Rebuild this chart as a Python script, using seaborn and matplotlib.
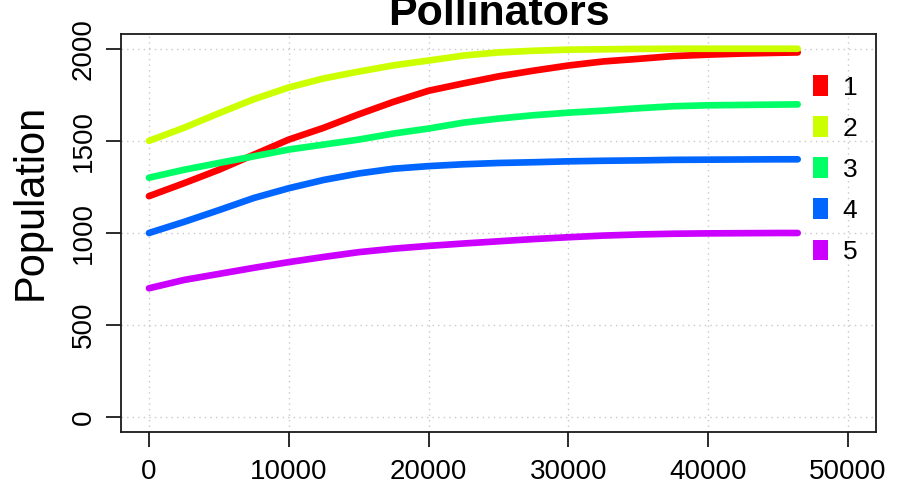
import matplotlib
matplotlib.use("Agg")
import matplotlib.pyplot as plt
from matplotlib.patches import Patch
import seaborn as sns
import pandas as pd

# ---- data ----
time = [0, 2500, 5000, 7500, 10000, 12500, 15000, 17500, 20000, 22500,
        25000, 27500, 30000, 32500, 35000, 37500, 40000, 42500, 45000, 46400]
pop1 = [1200, 1270, 1343, 1425, 1507, 1571, 1644, 1712, 1772, 1812,
        1850, 1881, 1909, 1931, 1945, 1960, 1968, 1974, 1978, 1980]
pop2 = [1500, 1571, 1650, 1726, 1790, 1839, 1876, 1910, 1936, 1963,
        1980, 1989, 1995, 1997, 1999, 2000, 2000, 2000, 2000, 2000]
pop3 = [1300, 1343, 1380, 1416, 1453, 1480, 1507, 1540, 1567, 1599,
        1621, 1639, 1653, 1664, 1677, 1688, 1693, 1695, 1697, 1698]
pop4 = [1000, 1060, 1124, 1190, 1243, 1288, 1323, 1349, 1363, 1373,
        1380, 1384, 1389, 1392, 1394, 1397, 1398, 1399, 1400, 1400]
pop5 = [700, 745, 778, 811, 842, 870, 896, 915, 930, 943,
        955, 967, 977, 986, 992, 996, 998, 999, 1000, 1000]
series_names = ["1", "2", "3", "4", "5"]
colors = ["#FF0000", "#CCFF00", "#00FF66", "#0066FF", "#CC00FF"]
x_ticks = [0, 10000, 20000, 30000, 40000, 50000]
y_ticks = [0, 500, 1000, 1500, 2000]

rows = []
for name, vals in zip(series_names, [pop1, pop2, pop3, pop4, pop5]):
    for t, v in zip(time, vals):
        rows.append({"time": t, "pop": v, "series": name})
df = pd.DataFrame(rows)

sns.set_style("white")
plt.rcParams["font.family"] = ["Liberation Sans", "DejaVu Sans"]
plt.rcParams["text.color"] = "black"
plt.rcParams["axes.labelcolor"] = "black"
plt.rcParams["xtick.color"] = "black"
plt.rcParams["ytick.color"] = "black"

fig = plt.figure(figsize=(9.06, 4.88), dpi=100)
ax = fig.add_axes([121 / 906, 1 - 432 / 488, 755 / 906, 398 / 488])

ax.set_xlim(-2000, 52000)
ax.set_ylim(-80, 2080)
ax.set_xticks(x_ticks)
ax.set_yticks(y_ticks)
ax.grid(True, color="#C8C8C8", linestyle=(0, (1, 3)), linewidth=1.0)
ax.set_axisbelow(True)

sns.lineplot(data=df, x="time", y="pop", hue="series", palette=colors,
             linewidth=4.8, ax=ax, legend=False, zorder=3)
for ln in ax.get_lines():
    ln.set_solid_joinstyle("round")
    ln.set_solid_capstyle("round")

for s in ax.spines.values():
    s.set_visible(True)
    s.set_color("#1a1a1a")
    s.set_linewidth(1.3)

ax.tick_params(axis="both", which="major", direction="out", length=11,
               width=1.3, color="#1a1a1a", labelcolor="black", labelsize=20,
               bottom=True, left=True)
ax.tick_params(axis="x", pad=8.5)
ax.tick_params(axis="y", pad=6.5)
ax.set_xticklabels([str(v) for v in x_ticks])
ax.set_yticklabels([str(v) for v in y_ticks], rotation=90, va="center")

ax.set_xlabel("")
ax.set_ylabel("Population", fontsize=30, color="black")
ax.yaxis.set_label_coords(-0.0927, 0.579)

ax.set_title("Pollinators", fontsize=31, fontweight="bold", pad=6.5,
             color="black")

handles = [Patch(facecolor=c, edgecolor="none", label=n)
           for c, n in zip(colors, series_names)]
ax.legend(handles=handles, loc="upper left",
          bbox_to_anchor=((813 - 121) / 755, (432 - 75) / 398),
          frameon=False, fontsize=19, handlelength=0.57, handleheight=0.83,
          handletextpad=0.55, labelspacing=0.63, borderpad=0, borderaxespad=0,
          labelcolor="black")

fig.savefig("out.png", dpi=100)
